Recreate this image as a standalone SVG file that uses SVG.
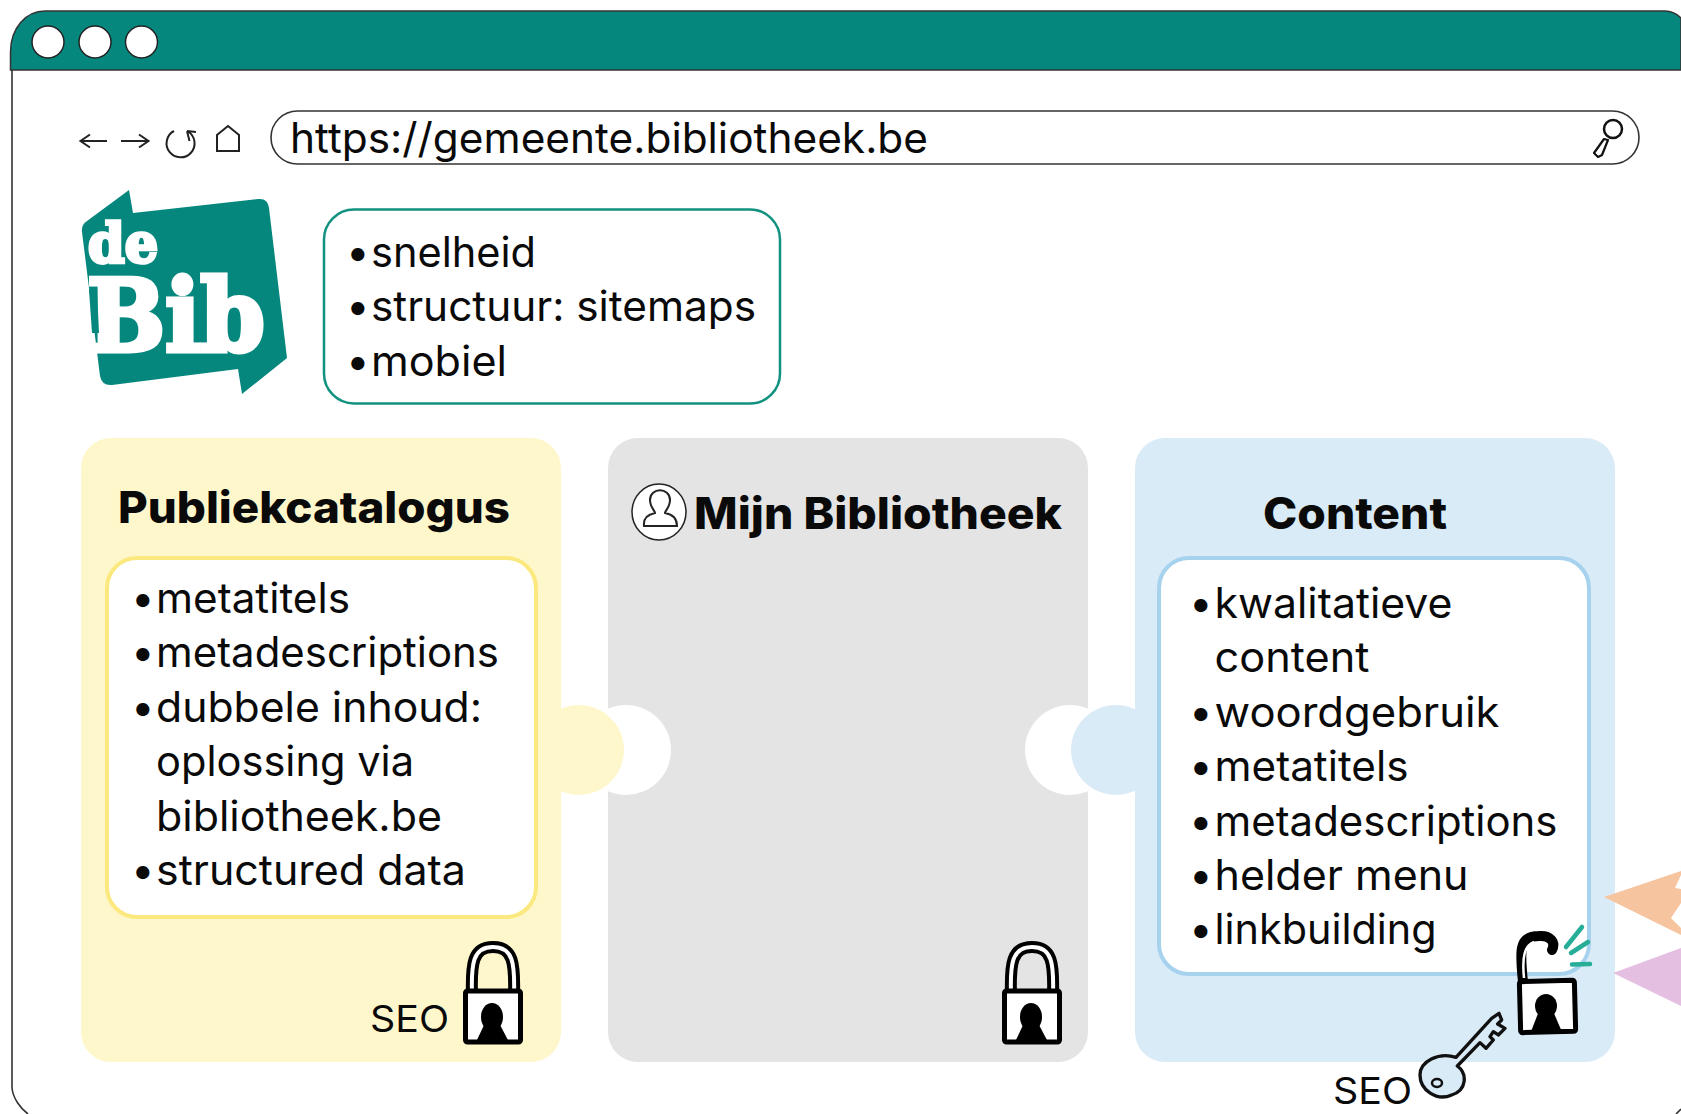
<svg xmlns="http://www.w3.org/2000/svg" width="1681" height="1114" viewBox="0 0 1681 1114">
<style>
text{font-family:Inter,"Open Sans","Liberation Sans",sans-serif;fill:#0a0a0a}
.t{font-size:42px;font-weight:400}
.b{font-size:42px;font-weight:400}
.h{font-size:44px;font-weight:800}
.s{font-size:37px;font-weight:400}
.ln{fill:none;stroke:#333;stroke-width:1.6}
.ic{fill:none;stroke:#222;stroke-width:2}
.lg{font-family:"DejaVu Serif",serif;font-weight:700;fill:#fff;stroke:#fff}
</style>
<defs>
<g id="lock">
<path d="M9,52C8,20 10,4 30,4C50,4 52,20 51,52" fill="none" stroke="#000" stroke-width="12"/>
<path d="M9,52C8,20 10,4 30,4C50,4 52,20 51,52" fill="none" stroke="#fff" stroke-width="4"/>
<rect x="2.500" y="48" width="55" height="51" rx="2" fill="#fff" stroke="#000" stroke-width="5"/>
<ellipse cx="29" cy="74" rx="11" ry="14" fill="#000"/>
<path d="M22,80H36L46,99H13Z" fill="#000"/>
</g>
</defs>
<rect width="1681" height="1114" fill="#fff"/>
<g id="browser">
<path class="ln" d="M12,70V1088C13,1098 20,1108 28,1114"/>
<path class="ln" d="M1676,1114L1681,1109"/>
<path d="M10.500,70V52C10.500,28 26,11 45,11H1665C1672,11 1677,14 1681,18V70Z" fill="#05877D" stroke="#333" stroke-width="1.500"/>
<circle cx="48" cy="42" r="16" fill="#fff" stroke="#222" stroke-width="1.500"/>
<circle cx="95" cy="42" r="16" fill="#fff" stroke="#222" stroke-width="1.500"/>
<circle cx="141.500" cy="42" r="16" fill="#fff" stroke="#222" stroke-width="1.500"/>
<path class="ic" d="M107,141H81M90,134.500L80.500,141L90,147.500"/>
<path class="ic" d="M121,141H148M139,134.500L148.500,141L139,147.500"/>
<path class="ic" d="M188,131.500A14,14 0 1 1 174,131M187,131L196,132M187,131L189.500,141"/>
<path class="ic" d="M217,151V135L228,126L239,135V151Z" stroke-width="1.300"/>
<rect class="ln" x="271" y="111" width="1368" height="53" rx="26.500" fill="#fff"/>
<text class="t" x="290" y="153" textLength="638" lengthAdjust="spacingAndGlyphs">https://gemeente.bibliotheek.be</text>
<circle cx="1613" cy="129" r="9" fill="none" stroke="#111" stroke-width="2.500"/>
<path d="M1608,140L1604,139L1594,153L1598,157L1602,155Z" fill="none" stroke="#111" stroke-width="2.200" stroke-linejoin="round"/>
</g>
<g id="logo">
<path d="M129,190L133,213L258,199Q268,198 269,208L287,358L242,394L238,369L112,385Q102,386 100,376L82,232Q81,225 87,221Z" fill="#05877D"/>
<text class="lg" x="88" y="262" font-size="55" stroke-width="3.500" textLength="70" lengthAdjust="spacingAndGlyphs">de</text>
<text class="lg" x="87" y="351" font-size="100" stroke-width="5" textLength="178" lengthAdjust="spacingAndGlyphs">Bib</text>
<path d="M89,290L97,290L99,333L92,333Z" fill="#05877D"/>
</g>
<g id="techniek">
<rect x="324" y="209.500" width="456" height="194" rx="30" fill="#fff" stroke="#11917F" stroke-width="2.500"/>
<text class="b" x="346" y="267">•</text><text class="t" x="371" y="267" textLength="165" lengthAdjust="spacingAndGlyphs">snelheid</text>
<text class="b" x="346" y="321">•</text><text class="t" x="371" y="321" textLength="385" lengthAdjust="spacingAndGlyphs">structuur: sitemaps</text>
<text class="b" x="346" y="376">•</text><text class="t" x="371" y="376" textLength="136" lengthAdjust="spacingAndGlyphs">mobiel</text>
</g>
<g id="mijn-bibliotheek">
<rect x="608" y="438" width="480" height="624" rx="30" fill="#E4E4E4"/>
<circle cx="626" cy="750" r="45" fill="#fff"/>
<circle cx="1070" cy="750" r="45" fill="#fff"/>
<ellipse cx="659" cy="512" rx="27" ry="28" fill="#fff" stroke="#222" stroke-width="1.500"/>
<path d="M650,500C650,487 670,487 670,500C670,507 665,511 665,513C671,514 677,517 677,526H644C643,517 650,514 655,513C655,511 650,507 650,500Z" fill="none" stroke="#222" stroke-width="2"/>
<text class="h" x="694" y="529" textLength="368" lengthAdjust="spacingAndGlyphs">Mijn Bibliotheek</text>
<use href="#lock" x="1002" y="943"/>
</g>
<g id="publiekcatalogus">
<rect x="81" y="438" width="480" height="624" rx="30" fill="#FFF7CC"/>
<circle cx="579" cy="750" r="45" fill="#FFF7CC"/>
<rect x="107" y="558" width="429" height="359" rx="30" fill="#fff" stroke="#FBE97F" stroke-width="4"/>
<text class="h" x="118" y="523" textLength="392" lengthAdjust="spacingAndGlyphs">Publiekcatalogus</text>
<text class="b" x="131" y="613">•</text><text class="t" x="156" y="613" textLength="194" lengthAdjust="spacingAndGlyphs">metatitels</text>
<text class="b" x="131" y="667">•</text><text class="t" x="156" y="667" textLength="343" lengthAdjust="spacingAndGlyphs">metadescriptions</text>
<text class="b" x="131" y="722">•</text><text class="t" x="156" y="722" textLength="326" lengthAdjust="spacingAndGlyphs">dubbele inhoud:</text>
<text class="t" x="156" y="776" textLength="258" lengthAdjust="spacingAndGlyphs">oplossing via</text>
<text class="t" x="156" y="831" textLength="286" lengthAdjust="spacingAndGlyphs">bibliotheek.be</text>
<text class="b" x="131" y="885">•</text><text class="t" x="156" y="885" textLength="310" lengthAdjust="spacingAndGlyphs">structured data</text>
<text class="s" x="370" y="1032" textLength="79" lengthAdjust="spacingAndGlyphs">SEO</text>
<use href="#lock" x="463" y="943"/>
</g>
<g id="content">
<rect x="1135" y="438" width="480" height="624" rx="30" fill="#DAEBF8"/>
<circle cx="1116" cy="750" r="45" fill="#DAEBF8"/>
<rect x="1159" y="558" width="430" height="416" rx="30" fill="#fff" stroke="#A6D2EE" stroke-width="4"/>
<text class="h" x="1263" y="529" textLength="184" lengthAdjust="spacingAndGlyphs">Content</text>
<text class="b" x="1189" y="618">•</text><text class="t" x="1214.500" y="618" textLength="238" lengthAdjust="spacingAndGlyphs">kwalitatieve</text>
<text class="t" x="1214.500" y="672" textLength="155" lengthAdjust="spacingAndGlyphs">content</text>
<text class="b" x="1189" y="727">•</text><text class="t" x="1214.500" y="727" textLength="285" lengthAdjust="spacingAndGlyphs">woordgebruik</text>
<text class="b" x="1189" y="781">•</text><text class="t" x="1214.500" y="781" textLength="194" lengthAdjust="spacingAndGlyphs">metatitels</text>
<text class="b" x="1189" y="836">•</text><text class="t" x="1214.500" y="836" textLength="343" lengthAdjust="spacingAndGlyphs">metadescriptions</text>
<text class="b" x="1189" y="890">•</text><text class="t" x="1214.500" y="890" textLength="254" lengthAdjust="spacingAndGlyphs">helder menu</text>
<text class="b" x="1189" y="944">•</text><text class="t" x="1214.500" y="944" textLength="222" lengthAdjust="spacingAndGlyphs">linkbuilding</text>
<g id="open-lock">
<path d="M1523,982C1520,952 1518,936 1539,936C1550,935 1556,942 1552,950" fill="none" stroke="#000" stroke-width="10" stroke-linecap="round"/>
<path d="M1524,978C1522,958 1524,946 1534,942" fill="none" stroke="#fff" stroke-width="2.500"/>
<rect x="1520" y="981" width="55" height="51" rx="2" fill="#fff" stroke="#000" stroke-width="5" transform="rotate(-1.500 1547 1006)"/>
<ellipse cx="1546" cy="1006" rx="11" ry="12" fill="#000"/>
<path d="M1539,1011H1553L1562,1032L1530,1034Z" fill="#000"/>
<path d="M1566,947L1582,927M1571,953L1588,942M1572,964.500L1590,964" fill="none" stroke="#27AE98" stroke-width="4.500" stroke-linecap="round"/>
</g>
<path d="M228,712L335,595L357,580L365,600L353,612L375,625L355,645L340,635L330,650L340,660L318,685L300,668L232,738C262,760 262,810 215,825C170,845 120,810 120,765C120,725 175,695 228,712Z" transform="translate(1380 820) scale(.3333)" fill="#DAEBF8" stroke="#111" stroke-width="10" stroke-linejoin="round"/>
<ellipse cx="1437" cy="1083" rx="5" ry="4" fill="none" stroke="#111" stroke-width="2.500"/>
<text class="s" x="1333" y="1104" textLength="79" lengthAdjust="spacingAndGlyphs">SEO</text>
</g>
<g id="pijlen">
<polygon points="1604,897 1681,871 1681,875 1675,888 1681,889 1681,903 1671,918 1681,928 1681,935" fill="#F7C4A0"/>
<polygon points="1613,973 1681,948 1681,1006" fill="#E5BFE2"/>
</g>
</svg>
